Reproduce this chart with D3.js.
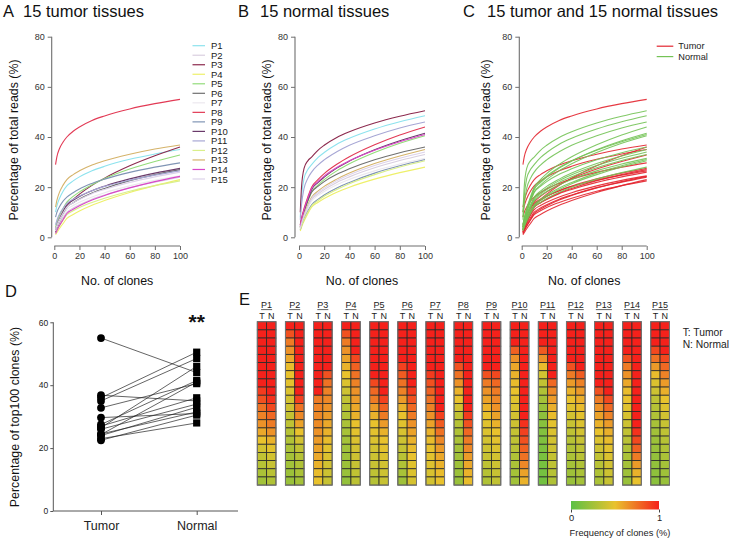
<!DOCTYPE html>
<html><head><meta charset="utf-8">
<script src="https://cdn.jsdelivr.net/npm/d3@7"></script>
<style>body{margin:0;background:#fff}svg{display:block}text{font-family:"Liberation Sans",Arial,Helvetica,sans-serif}</style>
</head><body><svg id="c" width="731" height="539"></svg>
<script>
// ---------------- data ----------------
const clones = [1, 2, 4, 7, 10, 15, 20, 30, 40, 60, 80, 100];
const patients = ["P1","P2","P3","P4","P5","P6","P7","P8","P9","P10","P11","P12","P13","P14","P15"];
const patientColors = ["#8de3ee","#d9cfe0","#8c2a4e","#eef06a","#93dc7a","#707070","#ece8ef","#e23a55","#8095b5","#6a3a6a","#a7a7d5","#d9ef8a","#d5b36a","#d948c8","#dcd2ea"];
const xTicks = [0, 20, 40, 60, 80, 100];
const yTicks = [0, 20, 40, 60, 80];

const tumorCurves = [
  [10, 12.4, 15.4, 18.4, 20.5, 22.5, 24.1, 26.5, 28.3, 31.1, 33.2, 35],
  [2, 3.2, 5.3, 7.8, 10, 11.7, 13, 15.2, 16.9, 19.8, 22, 24],
  [2, 3.5, 6.5, 10, 12.5, 15.1, 17.2, 20.7, 23.6, 28.5, 32.5, 36],
  [1, 1.8, 3.4, 5.5, 7.5, 9.1, 10.5, 12.8, 14.7, 17.9, 20.6, 23],
  [4, 5.8, 8.5, 11.5, 14, 16.3, 18.1, 21, 23.4, 27.2, 30.2, 32.8],
  [2, 3.4, 5.9, 9.1, 12, 13.8, 15.3, 17.7, 19.5, 22.6, 25, 27],
  [2.5, 3.9, 6.1, 8.8, 11, 12.7, 14, 16.1, 17.8, 20.5, 22.7, 24.5],
  [29, 32, 35.2, 38, 40, 42.3, 44, 46.6, 48.4, 51.2, 53.3, 55],
  [8, 9.9, 12.1, 14.4, 16, 17.8, 19.3, 21.5, 23.2, 25.9, 28, 29.7],
  [3, 4.7, 7.2, 10.4, 13, 14.8, 16.3, 18.6, 20.4, 23.3, 25.6, 27.5],
  [5, 6.7, 9.1, 11.6, 13.5, 15.2, 16.5, 18.6, 20.3, 22.8, 24.8, 26.5],
  [1.5, 2.6, 4.4, 6.8, 9, 10.6, 11.9, 13.9, 15.6, 18.4, 20.6, 22.5],
  [12, 14.6, 17.8, 20.8, 23, 25, 26.5, 28.8, 30.5, 33.1, 35.2, 36.8],
  [1.5, 2.6, 4.6, 7.1, 9.5, 11.2, 12.6, 14.9, 16.7, 19.7, 22.2, 24.3],
  [3, 4.6, 6.9, 9.7, 12, 13.8, 15.1, 17.4, 19.1, 21.9, 24.1, 26]
];
const normalCurves = [
  [8, 16, 23.5, 27, 29, 31.8, 33.8, 37.1, 39.5, 43.2, 46.1, 48.5],
  [3, 4.9, 7.9, 11.7, 15, 17.2, 19, 21.9, 24.1, 27.7, 30.6, 33],
  [10, 20, 27.5, 30.5, 32, 34.7, 36.7, 39.8, 42.1, 45.6, 48.3, 50.5],
  [2.5, 4, 6.4, 9.4, 12, 13.9, 15.5, 18, 20, 23.2, 25.8, 28],
  [4, 6.3, 9.9, 14.2, 18, 20.8, 23, 26.5, 29.3, 33.8, 37.5, 40.5],
  [5, 7.4, 10.8, 14.8, 18, 20.3, 22.2, 25.1, 27.3, 30.9, 33.7, 36],
  [4, 5.9, 8.7, 11.9, 14.5, 16.6, 18.3, 21, 23.1, 26.5, 29.2, 31.5],
  [5, 7.6, 11.5, 16.1, 20, 23, 25.4, 29.1, 32.1, 36.9, 40.8, 44],
  [3, 4.7, 7.2, 10.4, 13, 15.1, 16.9, 19.7, 21.9, 25.6, 28.5, 31],
  [4, 6.4, 10.2, 14.9, 19, 21.8, 24, 27.6, 30.4, 34.9, 38.5, 41.5],
  [7, 13, 19.5, 23.5, 26, 28.8, 30.9, 34.1, 36.7, 40.5, 43.6, 46],
  [3, 4.6, 7.1, 10, 12.5, 14.6, 16.4, 19.1, 21.4, 25, 28, 30.5],
  [4, 6.1, 9.2, 12.9, 16, 18.4, 20.3, 23.2, 25.6, 29.4, 32.4, 35],
  [4.5, 7, 10.9, 15.5, 19.5, 22.2, 24.4, 27.8, 30.5, 34.7, 38.1, 41],
  [3.5, 5.5, 8.6, 12.3, 15.5, 17.8, 19.6, 22.6, 24.9, 28.6, 31.5, 34]
];

const groups = ["Tumor", "Normal"];
const tumorTop100 = [35, 24, 36, 23, 32.8, 27, 24.5, 55, 29.7, 27.5, 26.5, 22.5, 36.8, 24.3, 26];
const normalTop100 = [48.5, 33, 50.5, 28, 40.5, 36, 31.5, 44, 31, 41.5, 46, 30.5, 35, 41, 34];
const dTicks = [0, 20, 40, 60];

const heatTumor = [
  [1,1,1,1,1,1,1,1,0.92,0.85,0.75,0.7,0.65,0.58,0.5,0.42,0.36,0.32,0.28,0.25],
  [1,0.85,0.72,0.65,0.58,0.52,0.5,0.48,0.45,0.42,0.4,0.37,0.35,0.32,0.3,0.28,0.26,0.25,0.23,0.22],
  [1,1,1,1,1,1,1,1,1,0.72,0.7,0.68,0.67,0.65,0.62,0.6,0.58,0.55,0.52,0.5],
  [1,0.85,0.72,0.65,0.6,0.55,0.5,0.45,0.4,0.36,0.33,0.3,0.28,0.27,0.26,0.25,0.24,0.23,0.22,0.2],
  [1,1,1,1,1,1,1,0.88,0.78,0.72,0.62,0.55,0.5,0.48,0.45,0.42,0.4,0.38,0.35,0.32],
  [1,1,1,1,1,0.9,0.82,0.75,0.7,0.62,0.55,0.5,0.47,0.44,0.4,0.37,0.33,0.3,0.27,0.24],
  [1,1,1,1,1,1,0.92,0.85,0.8,0.75,0.7,0.65,0.6,0.55,0.52,0.5,0.48,0.46,0.44,0.42],
  [1,1,1,1,1,0.85,0.75,0.65,0.55,0.5,0.42,0.36,0.32,0.3,0.28,0.26,0.25,0.24,0.23,0.22],
  [1,1,1,1,1,1,0.85,0.72,0.65,0.6,0.55,0.5,0.47,0.45,0.42,0.4,0.38,0.35,0.32,0.3],
  [1,1,1,0.8,0.65,0.58,0.55,0.52,0.5,0.47,0.45,0.42,0.4,0.37,0.35,0.33,0.3,0.28,0.26,0.25],
  [1,1,1,0.82,0.65,0.52,0.42,0.36,0.3,0.26,0.22,0.18,0.16,0.14,0.13,0.12,0.11,0.1,0.09,0.08],
  [1,1,1,1,1,0.85,0.72,0.62,0.55,0.5,0.46,0.42,0.38,0.35,0.32,0.3,0.28,0.26,0.24,0.22],
  [1,1,1,1,1,1,1,1,0.85,0.72,0.65,0.6,0.55,0.5,0.45,0.4,0.36,0.33,0.3,0.28],
  [1,1,1,1,0.85,0.72,0.65,0.58,0.52,0.5,0.47,0.44,0.4,0.36,0.33,0.3,0.28,0.26,0.24,0.22],
  [1,1,1,0.88,0.75,0.62,0.52,0.45,0.4,0.35,0.32,0.3,0.27,0.25,0.23,0.22,0.2,0.19,0.18,0.17]
];
const heatNormal = [
  [1,1,1,1,1,1,1,1,1,0.95,0.88,0.78,0.72,0.65,0.55,0.48,0.42,0.38,0.33,0.3],
  [1,1,1,1,1,1,1,1,1,0.9,0.75,0.68,0.6,0.5,0.42,0.36,0.32,0.3,0.28,0.26],
  [1,1,1,1,1,1,0.85,0.75,0.7,0.68,0.65,0.62,0.58,0.55,0.52,0.48,0.45,0.42,0.4,0.38],
  [1,1,1,1,0.88,0.8,0.75,0.7,0.65,0.62,0.58,0.55,0.5,0.48,0.45,0.42,0.4,0.38,0.36,0.34],
  [1,1,1,1,1,1,1,1,1,0.9,0.8,0.72,0.62,0.55,0.5,0.48,0.45,0.42,0.4,0.38],
  [1,1,1,1,1,1,1,1,0.92,0.85,0.78,0.72,0.65,0.6,0.55,0.52,0.5,0.47,0.45,0.43],
  [1,1,1,1,1,1,1,1,1,1,1,0.9,0.82,0.75,0.68,0.62,0.58,0.55,0.52,0.5],
  [1,1,1,1,1,1,1,1,1,1,1,0.92,0.85,0.78,0.72,0.68,0.62,0.58,0.55,0.52],
  [1,1,1,1,1,1,0.88,0.78,0.72,0.68,0.65,0.6,0.55,0.5,0.48,0.45,0.42,0.4,0.38,0.36],
  [1,1,1,1,1,1,1,1,1,1,1,1,0.95,0.9,0.85,0.8,0.75,0.68,0.6,0.55],
  [1,1,1,1,1,1,1,0.78,0.68,0.62,0.56,0.52,0.48,0.45,0.42,0.4,0.37,0.35,0.32,0.3],
  [1,1,1,1,1,1,0.82,0.7,0.62,0.56,0.52,0.48,0.45,0.42,0.38,0.35,0.33,0.3,0.28,0.26],
  [1,1,1,1,1,1,1,1,1,0.88,0.78,0.7,0.62,0.56,0.52,0.48,0.45,0.42,0.4,0.38],
  [1,1,1,1,1,1,1,1,1,1,1,1,1,0.95,0.88,0.8,0.72,0.62,0.55,0.5],
  [1,1,1,1,0.88,0.78,0.7,0.62,0.56,0.5,0.46,0.42,0.38,0.35,0.32,0.3,0.28,0.26,0.24,0.22]
];
const heatColumns = ["T", "N"];
const heatStops = [0, 0.5, 1];
const heatColors = ["#5bc144", "#e9c22d", "#f5211b"];

// ---------------- drawing ----------------
const svg = d3.select("#c");
const FONT = '"Liberation Sans",Arial,Helvetica,sans-serif';
const AX = "#6e6e6e";

function panelLetter(x, y, letter, title, tx) {
  svg.append("text").attr("x", x).attr("y", y).attr("font-size", 16.5).attr("fill", "#111").text(letter);
  if (title) svg.append("text").attr("x", tx).attr("y", y).attr("font-size", 16.5).attr("fill", "#111").text(title);
}

function curvePanel(cfg) {
  const g = svg.append("g");
  const x = d3.scaleLinear().domain([0, 100]).range([cfg.x0, cfg.x1]);
  const y = d3.scaleLinear().domain([0, 80]).range([237.3, 36.7]);
  const ya = g.append("g").attr("transform", `translate(${cfg.yAxisX},0)`)
    .call(d3.axisLeft(y).tickValues(yTicks).tickSize(4).tickPadding(3));
  const xa = g.append("g").attr("transform", `translate(0,246)`)
    .call(d3.axisBottom(x).tickValues(xTicks).tickSize(4).tickPadding(3));
  [ya, xa].forEach(a => {
    a.select(".domain").attr("stroke", AX).attr("stroke-width", 1.1);
    a.selectAll(".tick line").attr("stroke", AX);
    a.selectAll(".tick text").attr("font-size", 9).attr("font-family", FONT).attr("fill", "#333");
  });
  ya.select(".domain").attr("d", `M0,${y(0)}V${y(80)}`);
  xa.select(".domain").attr("d", `M${x(0)},0H${x(100)}`);
  g.append("text").attr("transform", `translate(${cfg.yLabX},140) rotate(-90)`)
    .attr("text-anchor", "middle").attr("dominant-baseline", "central")
    .attr("font-size", 12.4).attr("fill", "#111").text("Percentage of total reads (%)");
  g.append("text").attr("x", (x(0) + x(100)) / 2).attr("y", 285)
    .attr("text-anchor", "middle").attr("font-size", 12.4).attr("fill", "#111").text("No. of clones");
  const line = d3.line().x((d, i) => x(clones[i])).y(d => y(d)).curve(d3.curveMonotoneX);
  cfg.series.forEach(s => {
    g.append("path").attr("d", line(s.values)).attr("fill", "none")
      .attr("stroke", s.color).attr("stroke-width", 1.1).attr("stroke-opacity", s.opacity || 1);
  });
  return g;
}

// Panel A
panelLetter(3, 17, "A", "15 tumor tissues", 23);
curvePanel({x0: 54.3, x1: 180, yAxisX: 51.7, yLabX: 14,
  series: tumorCurves.map((v, i) => ({values: v, color: patientColors[i]}))});
const legA = svg.append("g");
const legY = d3.scalePoint().domain(patients).range([45.7, 179]);
patients.forEach((p, i) => {
  legA.append("line").attr("x1", 192.5).attr("x2", 205).attr("y1", legY(p)).attr("y2", legY(p))
    .attr("stroke", patientColors[i]).attr("stroke-width", 1.2);
  legA.append("text").attr("x", 211).attr("y", legY(p)).attr("dominant-baseline", "central")
    .attr("font-size", 9.5).attr("fill", "#222").text(p);
});

// Panel B
panelLetter(238, 17, "B", "15 normal tissues", 260);
curvePanel({x0: 299, x1: 425, yAxisX: 295, yLabX: 267,
  series: normalCurves.map((v, i) => ({values: v, color: patientColors[i]}))});

// Panel C
panelLetter(463, 17, "C", "15 tumor and 15 normal tissues", 487);
const cSeries = [];
tumorCurves.forEach(v => cSeries.push({values: v, color: "#e3252f", opacity: 0.9}));
normalCurves.forEach(v => cSeries.push({values: v, color: "#74c356", opacity: 0.9}));
curvePanel({x0: 521.7, x1: 646.7, yAxisX: 519.3, yLabX: 486, series: cSeries});
[["Tumor", "#e3252f", 46.2], ["Normal", "#74c356", 56.6]].forEach(([t, c, yy]) => {
  svg.append("line").attr("x1", 656.7).attr("x2", 673.3).attr("y1", yy).attr("y2", yy).attr("stroke", c).attr("stroke-width", 1.2);
  svg.append("text").attr("x", 678.3).attr("y", yy).attr("dominant-baseline", "central").attr("font-size", 9.2).attr("fill", "#222").text(t);
});

// Panel D
panelLetter(5, 297, "D");
const dX = d3.scalePoint().domain(groups).range([101, 196.7]);
const dY = d3.scaleLinear().domain([0, 60]).range([511, 322.3]);
const gD = svg.append("g");
const dya = gD.append("g").attr("transform", "translate(53.3,0)").call(d3.axisLeft(dY).tickValues(dTicks).tickSize(3).tickPadding(2));
const dxa = gD.append("g").attr("transform", "translate(0,511)").call(d3.axisBottom(dX).tickSize(4).tickPadding(6));
[dya, dxa].forEach(a => {
  a.select(".domain").attr("stroke", "#555").attr("stroke-width", 1);
  a.selectAll(".tick line").attr("stroke", "#555");
  a.selectAll(".tick text").attr("font-family", FONT).attr("fill", "#222");
});
dya.select(".domain").attr("d", `M0,${dY(0)}V${dY(60)}`);
dxa.select(".domain").attr("d", `M53.3,0H238`);
dya.selectAll(".tick text").attr("font-size", 8.5);
dxa.selectAll(".tick text").attr("font-size", 12.5);
gD.append("text").attr("transform", `translate(15,417) rotate(-90)`).attr("text-anchor", "middle")
  .attr("dominant-baseline", "central").attr("font-size", 12.4).attr("fill", "#111").text("Percentage of top100 clones (%)");
tumorTop100.forEach((t, i) => {
  gD.append("line").attr("x1", dX("Tumor")).attr("y1", dY(t)).attr("x2", dX("Normal")).attr("y2", dY(normalTop100[i]))
    .attr("stroke", "#222").attr("stroke-width", 0.7);
});
tumorTop100.forEach(t => gD.append("circle").attr("cx", dX("Tumor")).attr("cy", dY(t)).attr("r", 3.9).attr("fill", "#000"));
normalTop100.forEach(n => gD.append("rect").attr("x", dX("Normal") - 3.6).attr("y", dY(n) - 3.6).attr("width", 7.2).attr("height", 7.2).attr("fill", "#000"));
gD.append("text").attr("x", dX("Normal")).attr("y", 329).attr("text-anchor", "middle")
  .attr("font-size", 21).attr("font-weight", "bold").attr("fill", "#111").text("**");

// Panel E
panelLetter(239, 305, "E");
const color = d3.scaleLinear().domain(heatStops).range(heatColors).interpolate(d3.interpolateRgb);
const pX = d3.scaleBand().domain(patients).range([257.3, 669.4]).paddingInner(0.336).paddingOuter(0);
const cX = d3.scaleBand().domain(heatColumns).range([0, pX.bandwidth()]);
const rowY = d3.scaleBand().domain(d3.range(20)).range([321.7, 485.1]);
const gE = svg.append("g");
patients.forEach((p, i) => {
  const gx = gE.append("g").attr("transform", `translate(${pX(p)},0)`);
  [heatTumor[i], heatNormal[i]].forEach((col, c) => {
    col.forEach((v, r) => {
      gx.append("rect").attr("x", cX(heatColumns[c])).attr("y", rowY(r))
        .attr("width", cX.bandwidth()).attr("height", rowY.bandwidth())
        .attr("fill", color(v)).attr("stroke", "#2a2a2a").attr("stroke-width", 0.8);
    });
  });
  gx.append("rect").attr("x", 0).attr("y", rowY(0)).attr("width", pX.bandwidth()).attr("height", rowY.step() * 20)
    .attr("fill", "none").attr("stroke", "#777").attr("stroke-width", 1);
  const cx = pX.bandwidth() / 2;
  const lab = gx.append("text").attr("x", cx).attr("y", 308).attr("text-anchor", "middle").attr("font-size", 9).attr("fill", "#222").text(p);
  const w = lab.node().getComputedTextLength();
  gx.append("line").attr("x1", cx - w / 2).attr("x2", cx + w / 2).attr("y1", 309.6).attr("y2", 309.6).attr("stroke", "#222").attr("stroke-width", 0.7);
  heatColumns.forEach(h => gx.append("text").attr("x", cX(h) + cX.bandwidth() / 2).attr("y", 318.5)
    .attr("text-anchor", "middle").attr("font-size", 9).attr("fill", "#222").text(h));
});
svg.append("text").attr("x", 682.7).attr("y", 332.7).attr("dominant-baseline", "central").attr("font-size", 10.3).attr("fill", "#222").text("T: Tumor");
svg.append("text").attr("x", 682.7).attr("y", 344.5).attr("dominant-baseline", "central").attr("font-size", 10.3).attr("fill", "#222").text("N: Normal");

// colour legend
const defs = svg.append("defs");
const grad = defs.append("linearGradient").attr("id", "hg").attr("x1", "0%").attr("x2", "100%");
heatStops.forEach((s, i) => grad.append("stop").attr("offset", (s * 100) + "%").attr("stop-color", heatColors[i]));
const lx = d3.scaleLinear().domain([0, 1]).range([571, 659]);
svg.append("rect").attr("x", lx(0)).attr("y", 501).attr("width", lx(1) - lx(0)).attr("height", 8.5).attr("fill", "url(#hg)");
const lga = svg.append("g").attr("transform", "translate(0,509.5)").call(d3.axisBottom(lx).tickValues([0, 1]).tickFormat(d3.format("d")).tickSize(3).tickPadding(2));
lga.select(".domain").remove();
lga.selectAll(".tick line").attr("stroke", "#444");
lga.selectAll(".tick text").attr("font-size", 9.3).attr("font-family", FONT).attr("fill", "#222");
svg.append("text").attr("x", 620).attr("y", 535.5).attr("text-anchor", "middle").attr("font-size", 9.3).attr("fill", "#222").text("Frequency of clones (%)");
</script></body></html>
